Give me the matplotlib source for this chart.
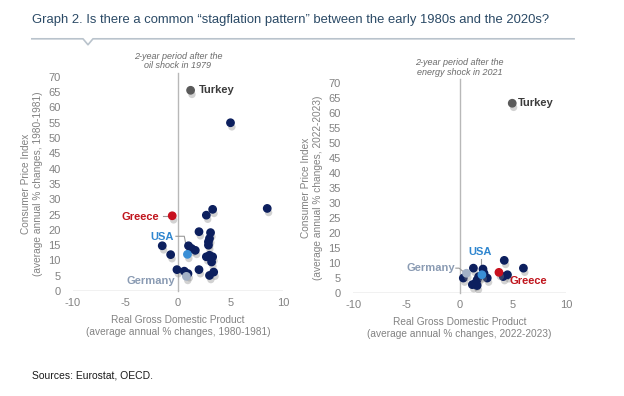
import matplotlib
matplotlib.use("Agg")
import matplotlib.pyplot as plt
import matplotlib.patheffects as pe
from matplotlib.lines import Line2D

plt.rcParams['font.family'] = ['Liberation Sans', 'DejaVu Sans']
plt.rcParams['axes.unicode_minus'] = False

# 1980-1981: GDP growth (x) vs CPI inflation (y)
gdp_80 = [5.0, 8.5, 3.3, 2.7, 2.0, 3.1, 3.0, 2.9, 2.9, -1.5, 1.0, 1.3, 1.65,
          -0.7, 3.0, 3.3, 2.7, 3.2, -0.1, 0.6, 2.0, 3.4, 3.0, 0.95]
cpi_80 = [55, 27, 26.7, 24.8, 19.4, 19.1, 17.2, 16.1, 15.0, 14.8, 14.8, 13.9, 13.3,
          11.9, 11.7, 11.2, 11.2, 9.5, 7.0, 6.5, 7.0, 6.2, 5.1, 5.7]
# highlighted countries: Turkey, Greece, USA, Germany
hl_80 = {'Turkey': (1.2, 65.6), 'Greece': (-0.55, 24.6), 'USA': (0.9, 12.0), 'Germany': (0.8, 4.8)}

# 2022-2023
gdp_22 = [4.2, 6.0, 1.3, 2.2, 0.35, 4.5, 4.1, 2.6, 1.65, 1.5, 1.65, 1.2, 2.3, 1.8]
cpi_22 = [10.9, 8.3, 8.3, 8.0, 5.0, 6.1, 5.5, 5.0, 4.4, 3.3, 2.5, 2.8, 6.6, 5.5]
hl_22 = {'Turkey': (4.95, 63.3), 'Greece': (3.7, 6.9), 'USA': (2.1, 6.1), 'Germany': (0.65, 6.6)}

colors = {'Turkey': '#5a5a5a', 'Greece': '#c8101e', 'USA': '#3a8fd6', 'Germany': '#a3b1c6'}
text_colors = {'Turkey': '#3c3c3c', 'Greece': '#c0141c', 'USA': '#2f86cf', 'Germany': '#8a9bb3'}
navy = '#0c1f5e'
gray_txt = '#828282'
axis_col = '#b8b8b8'

fig = plt.figure(figsize=(6.24, 3.96), dpi=100)
fig.patch.set_facecolor('white')

shadow = [pe.SimplePatchShadow(offset=(1, -3), shadow_rgbFace='#808080', alpha=0.35), pe.Normal()]


def panel(rect, gdp, cpi, hl, sub, period, ylpad):
    ax = fig.add_axes(rect)
    ax.set_xlim(-10, 10)
    ax.set_ylim(0, 70)
    for s in ax.spines.values():
        s.set_visible(False)
    ax.axhline(0, color=axis_col, lw=1, zorder=1)
    ax.axvline(0, ymin=0, ymax=1.02, color=axis_col, lw=1, zorder=1, clip_on=False)
    ax.set_xticks([-10, -5, 0, 5, 10])
    ax.set_yticks(range(0, 71, 5))
    ax.tick_params(length=0, labelsize=8, labelcolor=gray_txt)
    ax.tick_params(axis='y', pad=9)
    ax.tick_params(axis='x', pad=5)
    ax.scatter(gdp, cpi, s=28, color=navy, zorder=3, path_effects=shadow)
    for k, (x, y) in hl.items():
        ax.scatter([x], [y], s=28, color=colors[k], zorder=4, path_effects=shadow)
    ax.set_xlabel('Real Gross Domestic Product\n(average annual % changes, ' + period + ')',
                  fontsize=7.3, color=gray_txt, labelpad=5)
    ax.set_ylabel('Consumer Price Index\n(average annual % changes, ' + period + ')',
                  fontsize=7.3, color=gray_txt, labelpad=ylpad)
    ax.text(0, 1.03, sub, transform=ax.get_xaxis_transform(), ha='center', va='bottom',
            fontsize=6.5, style='italic', color='#6a6a6a', linespacing=1.1)
    return ax


ax1 = panel([0.117, 0.265, 0.3365, 0.541], gdp_80, cpi_80, hl_80,
            '2-year period after the\noil shock in 1979', '1980-1981', 4)
ax2 = panel([0.566, 0.260, 0.341, 0.530], gdp_22, cpi_22, hl_22,
            '2-year period after the\nenergy shock in 2021', '2022-2023', 4)

lab = dict(fontsize=8, fontweight='bold', va='center')
# left panel labels
ax1.text(2.0, hl_80['Turkey'][1], 'Turkey', color=text_colors['Turkey'], ha='left', **lab)
ax1.text(-1.75, 24.3, 'Greece', color=text_colors['Greece'], ha='right', **lab)
ax1.plot([-1.4, -0.8], [24.6, 24.6], color='#999999', lw=0.8, zorder=2)
ax1.text(-0.4, 17.7, 'USA', color=text_colors['USA'], ha='right', **lab)
ax1.plot([-0.2, 0.6, 0.85], [17.9, 17.9, 13.5], color='#999999', lw=0.8, zorder=2)
ax1.text(-0.3, 3.3, 'Germany', color=text_colors['Germany'], ha='right', **lab)

# right panel labels
ax2.text(5.5, hl_22['Turkey'][1], 'Turkey', color=text_colors['Turkey'], ha='left', **lab)
ax2.text(1.94, 13.6, 'USA', color=text_colors['USA'], ha='center', **lab)
ax2.plot([2.06, 2.06], [11.3, 7.0], color='#999999', lw=0.8, zorder=2)
ax2.text(-0.45, 8.3, 'Germany', color=text_colors['Germany'], ha='right', **lab)
ax2.plot([-0.35, -0.05, 0.4], [8.3, 8.3, 7.0], color='#999999', lw=0.8, zorder=2)
ax2.text(4.7, 3.9, 'Greece', color=text_colors['Greece'], ha='left', **lab)
ax2.plot([3.9, 4.6], [6.2, 4.6], color='#999999', lw=0.8, zorder=2)

# title and rule with notch
fig.text(0.051, 0.949, 'Graph 2. Is there a common \u201cstagflation pattern\u201d between the early 1980s and the 2020s?',
         fontsize=9.4, color='#2b4a66', ha='left', va='center')
rule = Line2D([0.051, 0.133, 0.141, 0.149, 0.92], [0.902, 0.902, 0.887, 0.902, 0.902],
              transform=fig.transFigure, color='#b9c3cc', lw=1.2)
fig.add_artist(rule)

fig.text(0.051, 0.052, 'Sources: Eurostat, OECD.', fontsize=7.5, color='#1a1a1a', ha='left', va='center')

fig.savefig('out.png', dpi=100)
